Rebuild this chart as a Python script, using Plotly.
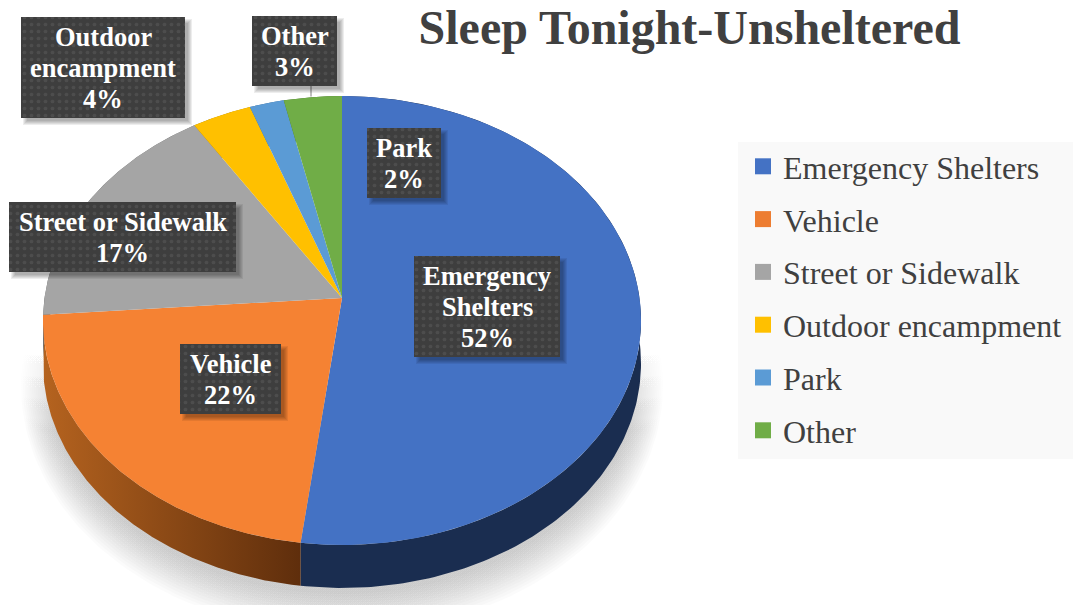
import numpy as np
import plotly.graph_objects as go

# ---- data ----
categories = ["Emergency Shelters", "Vehicle", "Street or Sidewalk", "Outdoor encampment", "Park", "Other"]
values = [52.0, 21.8, 17.15, 3.55, 2.05, 3.45]
top_colors = ["#4472c4", "#f58233", "#a5a5a5", "#ffc000", "#5b9bd5", "#70ad47"]
legend_colors = ["#4472c4", "#ed7d31", "#a5a5a5", "#ffc000", "#5b9bd5", "#70ad47"]
label_names = [["Emergency", "Shelters"], ["Vehicle"], ["Street or Sidewalk"],
               ["Outdoor", "encampment"], ["Park"], ["Other"]]
title_text = "Sleep Tonight-Unsheltered"

# ---- layout constants (pixel axes) ----
W, H = 1073, 605
SERIF = "Liberation Serif"
APEX_X, APEX_Y, RX, RY, PERSP, DEPTH = 342.0, 298.0, 297.5, 222.2, 0.1003, 43.0
label_boxes = [(414, 560, 256, 357), (180, 281, 344, 414), (9, 236, 202, 272),
               (21, 185, 17, 118), (367, 441, 128, 198), (252, 337, 16, 86)]


def project(theta):
    X, Y = np.sin(theta), np.cos(theta)
    w = 1 + PERSP * Y
    return APEX_X + RX * X / w, APEX_Y - RY * Y / w


def poly(**kw):
    base = dict(mode="lines", line=dict(width=0), fill="toself", hoverinfo="skip", showlegend=False)
    base.update(kw)
    return go.Scatter(**base)


traces = []

# soft ground shadow
n_sh = 14
t = np.linspace(0, 2 * np.pi, 240)
for i in range(n_sh):
    f = i / (n_sh - 1)
    cy = 385 - 15 * f
    rx = 321 - 23 * f
    ry = 248 - 24 * f
    xs, ys = APEX_X + rx * np.sin(t), cy + ry * np.cos(t)
    keep = ys >= 345
    traces.append(poly(
        x=xs[keep], y=ys[keep],
        fillgradient=dict(type="vertical", start=345, stop=430,
                          colorscale=[[0, "rgba(0,0,0,0)"], [1, "rgba(0,0,0,0.016)"]]),
    ))

# slices
total = sum(values)
edges = np.concatenate([[0], np.cumsum(values)]) / total * 2 * np.pi
walls = [dict(fillcolor="#1a2d50"),
         dict(fillgradient=dict(type="horizontal", start=43, stop=300,
                                colorscale=[[0, "#b5631f"], [1, "#5f2e0c"]])),
         dict(fillcolor="#6a6a6a"), dict(fillcolor="#a07800"),
         dict(fillcolor="#3a6690"), dict(fillcolor="#47702c")]
for i in range(len(values)):
    th = np.linspace(edges[i], edges[i + 1], 200)
    ax, ay = project(th)
    traces.append(poly(x=np.r_[ax, ax[::-1]], y=np.r_[ay, ay[::-1] + DEPTH], **walls[i]))
for i in range(len(values)):
    th = np.linspace(edges[i], edges[i + 1], 200)
    ax, ay = project(th)
    traces.append(poly(x=np.r_[APEX_X, ax, APEX_X], y=np.r_[APEX_Y, ay, APEX_Y], fillcolor=top_colors[i]))

# leader line of the "Other" label
traces.append(go.Scatter(x=[311, 311], y=[86, 96.5], mode="lines", line=dict(color="#7f7f7f", width=1),
                         hoverinfo="skip", showlegend=False))

# data-label boxes with soft shadow and dotted fill
annotations = []
for i, (x0, x1, y0, y1) in enumerate(label_boxes):
    for s in range(5):
        o = 7 - s
        traces.append(poly(x=[x0 + 9 - o, x1 + o, x1 + o, x0 + 9 - o, x0 + 9 - o],
                           y=[y0 + 9 - o, y0 + 9 - o, y1 + o, y1 + o, y0 + 9 - o],
                           fillcolor="rgba(0,0,0,0.07)"))
    traces.append(poly(x=[x0, x1, x1, x0, x0], y=[y0, y0, y1, y1, y0],
                       fillcolor="#404040",
                       fillpattern=dict(shape=".", size=7, solidity=0.22, bgcolor="#3e3e3e", fgcolor="#5c5c5c")))
    lines = label_names[i] + [f"{round(values[i])}%"]
    pitch = 31
    top = (y0 + y1) / 2 - pitch * (len(lines) - 1) / 2
    for k, line in enumerate(lines):
        annotations.append(dict(x=(x0 + x1) / 2, y=top + k * pitch, text=f"<b>{line}</b>", showarrow=False,
                                xref="x", yref="y", xanchor="center", yanchor="middle",
                                font=dict(family=SERIF, size=26.5, color="#ffffff")))

# legend entries
for cat, col in zip(categories, legend_colors):
    traces.append(go.Scatter(x=[None], y=[None], mode="markers", name=cat, legendgroup=cat,
                             marker=dict(symbol="square", size=16, color=col, line=dict(width=0))))

fig = go.Figure(traces)
fig.update_layout(
    width=W, height=H, margin=dict(l=0, r=0, t=0, b=0),
    paper_bgcolor="#ffffff", plot_bgcolor="#ffffff",
    xaxis=dict(range=[0, W], visible=False, fixedrange=True),
    yaxis=dict(range=[H, 0], visible=False, fixedrange=True),
    title=dict(text=f"<b>{title_text}</b>", x=689.5 / W, xanchor="center", xref="paper",
               y=1 - 27 / H, yanchor="middle", yref="container",
               font=dict(family=SERIF, size=48, color="#404040")),
    legend=dict(x=743 / W, xanchor="left", y=1 - 139 / H, yanchor="top", bgcolor="rgba(0,0,0,0)",
                font=dict(family=SERIF, size=32, color="#404040"), tracegroupgap=8.2,
                itemclick=False, itemdoubleclick=False),
    shapes=[dict(type="rect", xref="x", yref="y", x0=738, x1=W, y0=142, y1=459,
                 fillcolor="#f9f9f9", line=dict(width=0), layer="below")],
    annotations=annotations,
    hovermode=False,
)
fig.write_html("out.html", post_script="document.body.style.margin='0';", config=dict(displayModeBar=False))
